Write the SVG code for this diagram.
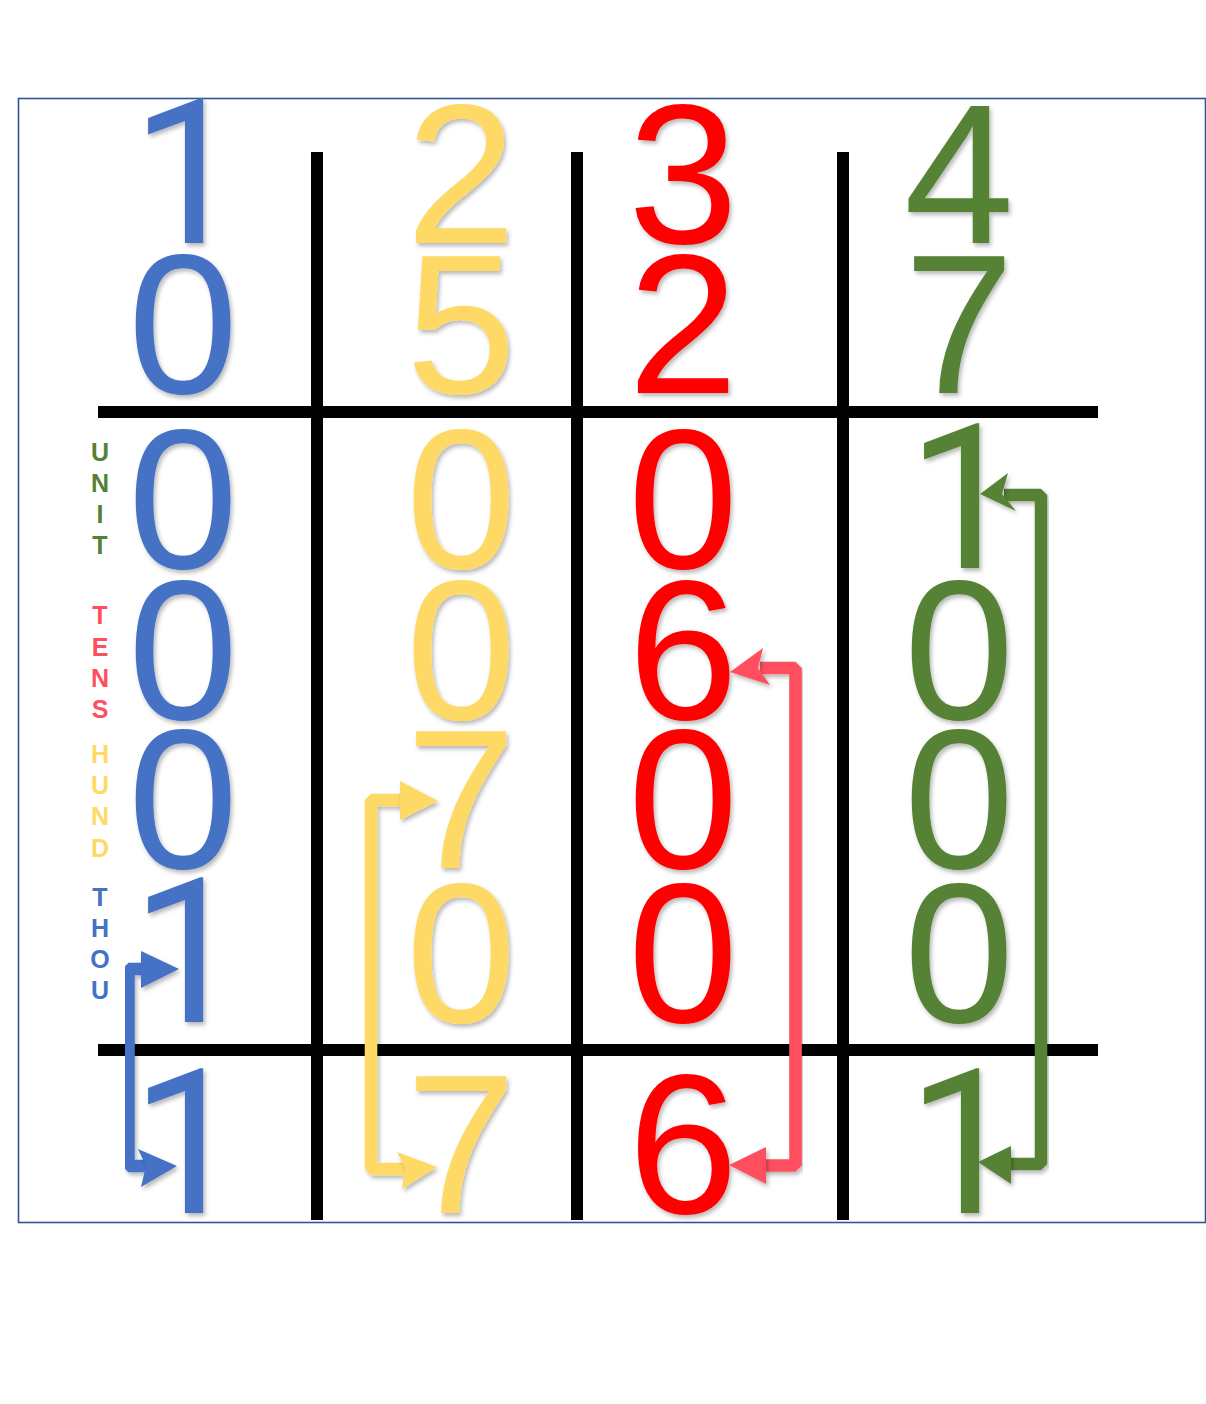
<svg xmlns="http://www.w3.org/2000/svg" width="1206" height="1404" viewBox="0 0 1206 1404">
<defs>
<filter id="sh" x="-20%" y="-20%" width="140%" height="140%">
<feDropShadow dx="2" dy="3" stdDeviation="2" flood-color="#000" flood-opacity="0.28"/>
</filter>
<style>
.d{font-family:"Liberation Sans",Arial,sans-serif;font-size:198px;text-anchor:middle;filter:url(#sh)}
.one{font-family:Roboto,"Liberation Sans",sans-serif;font-size:202px}
.l{font-family:"Liberation Sans",Arial,sans-serif;font-size:25px;font-weight:bold;text-anchor:middle}
.blue{fill:#4472C4}.yel{fill:#FFD966}.red{fill:#FF0000}.grn{fill:#548235}.pink{fill:#FF4F5E}
.grid{stroke:#000;stroke-width:12;fill:none}
.arr{fill:none;stroke-width:12.5;stroke-linejoin:bevel;filter:url(#sh)}
</style>
</defs>
<rect width="1206" height="1404" fill="#fff"/>
<rect x="18.5" y="98.5" width="1187" height="1124" fill="none" stroke="#2F5597" stroke-width="1.6"/>

<g id="grid">
<line class="grid" x1="317" y1="152" x2="317" y2="1220"/>
<line class="grid" x1="577" y1="152" x2="577" y2="1220"/>
<line class="grid" x1="843" y1="152" x2="843" y2="1220"/>
<line class="grid" x1="98" y1="412" x2="1098" y2="412"/>
<line class="grid" x1="98" y1="1050" x2="1098" y2="1050"/>
</g>

<g id="labels">
<text class="l grn" x="100" y="461">U</text>
<text class="l grn" x="100" y="492">N</text>
<text class="l grn" x="100" y="523">I</text>
<text class="l grn" x="100" y="554">T</text>
<text class="l pink" x="100" y="624">T</text>
<text class="l pink" x="100" y="656">E</text>
<text class="l pink" x="100" y="687">N</text>
<text class="l pink" x="100" y="718">S</text>
<text class="l yel" x="100" y="763">H</text>
<text class="l yel" x="100" y="794">U</text>
<text class="l yel" x="100" y="825">N</text>
<text class="l yel" x="100" y="857">D</text>
<text class="l blue" x="100" y="906">T</text>
<text class="l blue" x="100" y="937">H</text>
<text class="l blue" x="100" y="968">O</text>
<text class="l blue" x="100" y="999">U</text>
</g>

<g id="col-thousands" class="blue">
<text class="d one" x="188" y="243">1</text>
<text class="d" x="183" y="393">0</text>
<text class="d" x="183" y="568">0</text>
<text class="d" x="183" y="719">0</text>
<text class="d" x="183" y="868">0</text>
<text class="d one" x="188" y="1022">1</text>
<text class="d one" x="188" y="1213">1</text>
</g>

<g id="col-hundreds" class="yel">
<text class="d" x="461" y="243">2</text>
<text class="d" x="461" y="393">5</text>
<text class="d" x="461" y="568">0</text>
<text class="d" x="461" y="719">0</text>
<text class="d" x="461" y="868">7</text>
<text class="d" x="461" y="1022">0</text>
<text class="d" x="461" y="1213">7</text>
</g>

<g id="col-tens" class="red">
<text class="d" x="683" y="243">3</text>
<text class="d" x="683" y="393">2</text>
<text class="d" x="683" y="568">0</text>
<text class="d" x="683" y="719">6</text>
<text class="d" x="683" y="868">0</text>
<text class="d" x="683" y="1022">0</text>
<text class="d" x="683" y="1213">6</text>
</g>

<g id="col-units" class="grn">
<text class="d" x="959" y="243">4</text>
<text class="d" x="959" y="393">7</text>
<text class="d one" x="964" y="568">1</text>
<text class="d" x="959" y="719">0</text>
<text class="d" x="959" y="868">0</text>
<text class="d" x="959" y="1022">0</text>
<text class="d one" x="964" y="1213">1</text>
</g>

<g id="connectors">
<g id="arrow-blue">
<polyline class="arr" stroke="#4472C4" points="145,969 128.5,969 128.5,1166 146,1166"/>
<polygon class="blue" filter="url(#sh)" points="179,969 141,951 141,988"/>
<polygon class="blue" filter="url(#sh)" points="177,1166 138,1149 146,1166 141,1187"/>
</g>
<g id="arrow-yellow">
<polyline class="arr" stroke="#FFD966" points="402,800 371,800 371,1169 404,1169"/>
<polygon class="yel" filter="url(#sh)" points="438,801 400,781 400,820"/>
<polygon class="yel" filter="url(#sh)" points="437,1167 397,1152 405,1167 402,1189"/>
</g>
<g id="arrow-red">
<polyline class="arr" stroke="#FF4F5E" points="760,668 795.5,668 795.5,1165.5 764,1165.5"/>
<polygon class="pink" filter="url(#sh)" points="730,672 763,648 758,668 770,685"/>
<polygon class="pink" filter="url(#sh)" points="729,1165 766,1147 766,1184"/>
</g>
<g id="arrow-green">
<polyline class="arr" stroke="#548235" points="1004,495 1041,495 1041,1164 1009,1164"/>
<polygon class="grn" filter="url(#sh)" points="980,494 1008,473 1002,494 1016,511"/>
<polygon class="grn" filter="url(#sh)" points="978,1162 1011,1146 1011,1184"/>
</g>
</g>
</svg>
